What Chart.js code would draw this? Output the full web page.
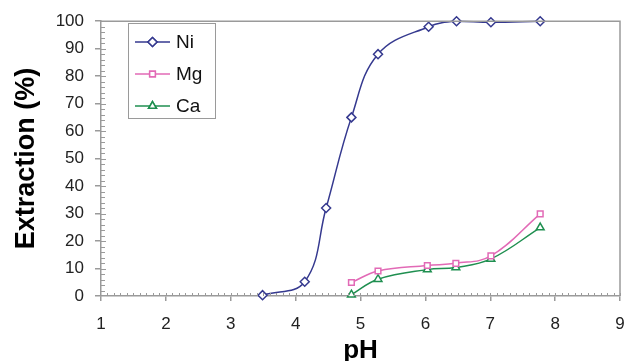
<!DOCTYPE html>
<html>
<head>
<meta charset="utf-8">
<script src="https://cdn.jsdelivr.net/npm/chart.js@4.4.1/dist/chart.umd.min.js"></script>
<style>
  html, body { margin: 0; padding: 0; background: #fff; }
  #wrap { width: 632px; height: 361px; }
</style>
</head>
<body>
<div id="wrap"><canvas id="myChart" width="632" height="361"></canvas></div>
<script>
// values
const niPH  = [3.49, 4.14, 4.47, 4.86, 5.27, 6.05, 6.48, 7.01, 7.77];
const niExt = [0.3, 5.2, 32, 65, 88, 98, 100, 99.6, 100];
const mgPH  = [4.86, 5.27, 6.03, 6.47, 7.01, 7.77];
const mgExt = [4.9, 9.1, 11.1, 11.9, 14.6, 29.9];
const caPH  = [4.86, 5.27, 6.03, 6.47, 7.01, 7.77];
const caExt = [0.5, 6.1, 9.6, 10.4, 13.5, 24.9];
const xTicks = [1, 2, 3, 4, 5, 6, 7, 8, 9];
const yTicks = [0, 10, 20, 30, 40, 50, 60, 70, 80, 90, 100];

const toPts = (xs, ys) => xs.map((x, i) => ({ x: x, y: ys[i] }));
const axisGray = '#9a9a9a';

// frame on top/right plus the small inner ticks
const frameTicks = {
  id: 'frameTicks',
  afterDraw(chart) {
    const { ctx, chartArea: a, scales } = chart;
    ctx.save();
    ctx.strokeStyle = axisGray;
    ctx.lineWidth = 1.5;
    ctx.beginPath();
    ctx.moveTo(a.left, a.top);
    ctx.lineTo(a.right, a.top);
    ctx.lineTo(a.right, a.bottom);
    ctx.stroke();
    ctx.lineWidth = 1;
    ctx.beginPath();
    for (let v = 1.1; v < 9; v += 0.1) {
      const px = Math.round(scales.x.getPixelForValue(v)) + 0.5;
      ctx.moveTo(px, a.bottom);
      ctx.lineTo(px, a.bottom - 3);
    }
    for (let v = 2; v < 100; v += 2) {
      const py = Math.round(scales.y.getPixelForValue(v)) + 0.5;
      const len = v % 10 === 0 ? 5 : 4;
      ctx.moveTo(a.left, py);
      ctx.lineTo(a.left + len, py);
    }
    ctx.stroke();
    ctx.restore();
  }
};

// legend box inside the plot, top-left
const boxLegend = {
  id: 'boxLegend',
  afterDraw(chart) {
    const { ctx } = chart;
    const x0 = 128, y0 = 23, w = 87, h = 95;
    ctx.save();
    ctx.fillStyle = '#fff';
    ctx.fillRect(x0, y0, w, h);
    ctx.strokeStyle = axisGray;
    ctx.lineWidth = 1;
    ctx.strokeRect(x0 + 0.5, y0 + 0.5, w, h);
    chart.data.datasets.forEach((ds, i) => {
      const y = y0 + 19 + i * 32;
      ctx.strokeStyle = ds.borderColor;
      ctx.lineWidth = 1.5;
      ctx.beginPath();
      ctx.moveTo(x0 + 7, y);
      ctx.lineTo(x0 + 42, y);
      ctx.stroke();
      Chart.helpers.drawPoint(ctx, {
        pointStyle: ds.pointStyle,
        radius: ds.pointRadius,
        borderWidth: ds.pointBorderWidth,
        rotation: 0
      }, x0 + 24.5, y);
      ctx.fillStyle = '#fff';
      ctx.strokeStyle = ds.borderColor;
      ctx.lineWidth = ds.pointBorderWidth;
      ctx.fill();
      ctx.stroke();
      ctx.fillStyle = '#111';
      ctx.font = '19px "Liberation Sans", Arial, sans-serif';
      ctx.textBaseline = 'middle';
      ctx.fillText(ds.label, x0 + 48, y + 1);
    });
    ctx.restore();
  }
};

const mkSet = (label, pts, color, style, r) => ({
  label: label,
  data: pts,
  borderColor: color,
  backgroundColor: '#fff',
  borderWidth: 1.5,
  pointStyle: style,
  pointRadius: r,
  pointBorderWidth: 1.5,
  pointBackgroundColor: '#fff',
  pointBorderColor: color,
  tension: 0.4,
  clip: false
});

const data = {
  datasets: [
    mkSet('Ni', toPts(niPH, niExt), '#35398f', 'rectRot', 4.5),
    mkSet('Mg', toPts(mgPH, mgExt), '#e26ab6', 'rect', 4),
    mkSet('Ca', toPts(caPH, caExt), '#1f8f50', 'triangle', 4.5)
  ]
};

const tickFont = { family: '"Liberation Sans", Arial, sans-serif', size: 17 };

const config = {
  type: 'line',
  data: data,
  plugins: [frameTicks, boxLegend],
  options: {
    responsive: false,
    animation: false,
    layout: { padding: { top: 19, right: 12, left: 0, bottom: 0 } },
    plugins: { legend: { display: false }, tooltip: { enabled: false } },
    scales: {
      x: {
        type: 'linear',
        min: 1, max: 9,
        afterFit: s => { s.height = 65; s.paddingLeft = 0; s.paddingRight = 0; },
        afterBuildTicks: s => { s.ticks = xTicks.map(v => ({ value: v })); },
        grid: { drawOnChartArea: false, drawTicks: true, tickLength: 5, color: axisGray, lineWidth: 1.5 },
        border: { color: axisGray, width: 1.5 },
        ticks: { font: tickFont, color: '#222', padding: 13, maxRotation: 0 },
        title: {
          display: true, text: 'pH', color: '#000',
          font: { family: '"Liberation Sans", Arial, sans-serif', size: 26, weight: 'bold', lineHeight: 1 },
          padding: { top: 0, bottom: -3 }
        }
      },
      y: {
        min: 0, max: 100,
        afterFit: s => { s.width = 101; },
        afterBuildTicks: s => { s.ticks = yTicks.map(v => ({ value: v })); },
        grid: { drawOnChartArea: false, drawTicks: true, tickLength: 6, color: axisGray, lineWidth: 1.5 },
        border: { color: axisGray, width: 1.5 },
        ticks: { font: tickFont, color: '#222', padding: 11 },
        title: {
          display: true, text: 'Extraction (%)', color: '#000',
          font: { family: '"Liberation Sans", Arial, sans-serif', size: 27, weight: 'bold', lineHeight: 1 },
          padding: { top: 13, bottom: 0 }
        }
      }
    }
  }
};

const myChart = new Chart(document.getElementById('myChart'), config);
</script>
</body>
</html>
